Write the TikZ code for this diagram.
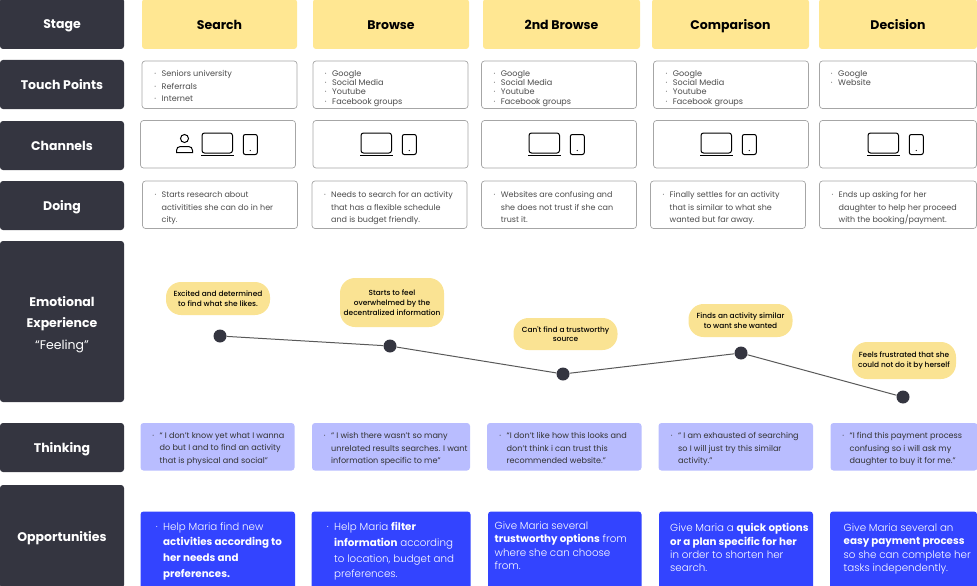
\documentclass[tikz,border=0pt]{standalone}
\usepackage{fontspec}
\setmainfont{Poppins}
\newfontfamily\bubblefont{Poppins Medium}
\newfontfamily\lightfont{Poppins Light}
\usetikzlibrary{positioning}

\definecolor{rowdark}{HTML}{343540}
\definecolor{stageyellow}{HTML}{FFE792}
\definecolor{bubbleyellow}{HTML}{FAE393}
\definecolor{thinklilac}{HTML}{B9BDFF}
\definecolor{oppblue}{HTML}{3344FF}

\newcommand{\bul}{\llap{\textperiodcentered\hspace{5.5pt}}}

\tikzset{
  cellbase/.style={anchor=north west,inner sep=0,outer sep=0,rounded corners=3pt},
  rowlabel/.style={cellbase,fill=rowdark,text=white,minimum width=124,align=center,
    text height=12,text depth=1.5,font=\fontsize{12.5}{21.5}\selectfont\bfseries},
  emolabel/.style={inner sep=0,text=white,align=center,
    font=\fontsize{12.5}{21.5}\selectfont\bfseries},
  stagecell/.style={cellbase,fill=stageyellow,minimum height=50,
    text height=12,text depth=1.5,font=\fontsize{12.5}{15}\selectfont\bfseries},
  linecell/.style={cellbase,draw=black!35,line width=.7pt,fill=white,minimum height=47.5},
  thinkcell/.style={cellbase,fill=thinklilac,minimum height=47.5},
  oppcell/.style={cellbase,fill=oppblue,minimum height=90},
  celltext/.style={anchor=north west,inner sep=0,align=left,text=black!70,
    font=\fontsize{8}{12.4}\selectfont},
  pointtext/.style={celltext,font=\fontsize{8.1}{9.4}\selectfont},
  thinktext/.style={celltext,text=black!80,font=\fontsize{8.1}{12.5}\selectfont},
  opptext/.style={anchor=north west,inner sep=0,align=left,text=white,
    font=\fontsize{10.3}{15.8}\lightfont},
  opptight/.style={opptext,font=\fontsize{10.3}{13.3}\lightfont},
  bubble/.style={fill=bubbleyellow,inner sep=0,align=center,rounded corners=15pt,
    minimum width=104,font=\fontsize{7.4}{9.7}\bubblefont},
  moodpoint/.style={circle,fill=rowdark,inner sep=0,minimum size=13},
  laptop/.pic={
    \draw[line width=1pt,rounded corners=2.5pt] (0,0) rectangle (30.5,20);
    \draw[line width=1.2pt] (-1,22.2) -- (31.5,22.2);
  },
  tablet/.pic={
    \draw[line width=1pt,rounded corners=2pt] (0,0) rectangle (14,20);
    \fill (7,16) circle (.6);
  },
}

\begin{document}
\begin{tikzpicture}[x=1pt,y=-1pt]
  \useasboundingbox (0,0) rectangle (977,586);

  % row labels
  \node[rowlabel,minimum height=51] (stage) at (0,-2) {Stage};
  \node[rowlabel,minimum height=49] (touch) at (0,60) {Touch Points};
  \node[rowlabel,minimum height=49] (chan) at (0,121) {Channels};
  \node[rowlabel,minimum height=49] (doing) at (0,181) {Doing};
  \node[cellbase,fill=rowdark,minimum width=124,minimum height=161] (emo) at (0,241) {};
  \node[emolabel] (emot) at (62,324.5) {Emotional\\Experience\\{\mdseries ``Feeling''}};
  \node[rowlabel,minimum height=49] (think) at (0,423) {Thinking};
  \node[rowlabel,minimum height=103] (opp) at (0,485) {Opportunities};

  % stages
  \node[stagecell,minimum width=155] (st1) at (142,-1) {Search};
  \node[stagecell,minimum width=156] (st2) at (313,-1) {Browse};
  \node[stagecell,minimum width=157] (st3) at (483,-1) {2nd Browse};
  \node[stagecell,minimum width=157] (st4) at (652,-1) {Comparison};
  \node[stagecell,minimum width=158] (st5) at (819,-1) {Decision};

  % touch points
  \node[linecell,minimum width=155] (tp1) at (142,61) {};
  \node[linecell,minimum width=155] (tp2) at (313,61) {};
  \node[linecell,minimum width=155] (tp3) at (481.5,61) {};
  \node[linecell,minimum width=155] (tp4) at (653.5,61) {};
  \node[linecell,minimum width=157] (tp5) at (819.5,61) {};
  \node[celltext,font=\fontsize{8.1}{12.4}\selectfont] (tp1t) at (161.5,70.3) {\bul Seniors university\\\bul Referrals\\\bul Internet};
  \node[pointtext] (tp2t) at (332,70) {\bul Google\\\bul Social Media\\\bul Youtube\\\bul Facebook groups};
  \node[pointtext] (tp3t) at (500.7,70) {\bul Google\\\bul Social Media\\\bul Youtube\\\bul Facebook groups};
  \node[pointtext] (tp4t) at (672.7,70) {\bul Google\\\bul Social Media\\\bul Youtube\\\bul Facebook groups};
  \node[pointtext] (tp5t) at (838,70) {\bul Google\\\bul Website};

  % channels
  \node[linecell,minimum width=155] (ch1) at (140.5,120.5) {};
  \node[linecell,minimum width=155] (ch2) at (313,120.5) {};
  \node[linecell,minimum width=155] (ch3) at (481.5,120.5) {};
  \node[linecell,minimum width=155] (ch4) at (653.5,120.5) {};
  \node[linecell,minimum width=157] (ch5) at (819.5,120.5) {};
  \foreach \lx in {202,361,529,701,868} {
    \pic at (\lx,133) {laptop};
    \pic at (\lx+41.3,134.5) {tablet};
  }
  \draw[line width=1pt] (184.5,138.5) circle (4);
  \draw[line width=1pt] (176.5,152.5) -- (176.5,150.5) .. controls (176.5,148) and (178,146.5) .. (180.5,146.5)
    -- (188.5,146.5) .. controls (191,146.5) and (192.5,148) .. (192.5,150.5) -- (192.5,152.5) -- cycle;

  % doing
  \node[linecell,minimum width=155] (do1) at (142.5,181) {};
  \node[linecell,minimum width=155] (do2) at (312,181) {};
  \node[linecell,minimum width=155] (do3) at (481.5,181) {};
  \node[linecell,minimum width=155] (do4) at (650.5,181) {};
  \node[linecell,minimum width=157] (do5) at (819.5,181) {};
  \node[celltext] (do1t) at (161.5,191.5) {\bul Starts research about\\activitities she can do in her\\city.};
  \node[celltext] (do2t) at (331,191.5) {\bul Needs to search for an activity\\that has a flexible schedule\\and is budget friendly.};
  \node[celltext] (do3t) at (500.7,191.5) {\bul Websites are confusing and\\she does not trust if she can\\trust it.};
  \node[celltext] (do4t) at (669.5,191.5) {\bul Finally settles for an activity\\that is similar to what she\\wanted but far away.};
  \node[celltext] (do5t) at (838.5,191.5) {\bul Ends up asking for her\\daughter to help her proceed\\with the booking/payment.};

  % feeling curve
  \node[moodpoint] (m1) at (220,336) {};
  \node[moodpoint] (m2) at (390,346) {};
  \node[moodpoint] (m3) at (563,374) {};
  \node[moodpoint] (m4) at (741,353) {};
  \node[moodpoint] (m5) at (903,397) {};
  \draw[line width=1pt,black!65] (m1) -- (m2) -- (m3) -- (m4) -- (m5);
  \node[bubble,minimum height=33] (b1) at (218,298.5) {Excited and determined\\to find what she likes.};
  \node[bubble,minimum height=49] (b2) at (392,302.5) {Starts to feel\\overwhelmed by the\\decentralized information};
  \node[bubble,minimum height=32] (b3) at (565.5,334) {Can't find a trustworthy\\source};
  \node[bubble,minimum height=33] (b4) at (740.5,320.5) {Finds an activity similar\\to want she wanted};
  \node[bubble,minimum height=37] (b5) at (904,360.5) {Feels frustrated that she\\could not do it by herself};

  % thinking
  \node[thinkcell,minimum width=154] (th1) at (140.5,423) {};
  \node[thinkcell,minimum width=158] (th2) at (312,423) {};
  \node[thinkcell,minimum width=154.5] (th3) at (487,423) {};
  \node[thinkcell,minimum width=154.5] (th4) at (658.5,423) {};
  \node[thinkcell,minimum width=147] (th5) at (830.5,423) {};
  \node[thinktext] (th1t) at (159.5,432.2) {\bul `` I don't know yet what I wanna\\do but I and to find an activity\\that is physical and social''};
  \node[thinktext] (th2t) at (331,432.2) {\bul `` I wish there wasn't so many\\unrelated results searches. I want\\information specific to me''};
  \node[thinktext] (th3t) at (506.5,432.2) {\bul ``I don't like how this looks and\\don't think i can trust this\\recommended website.''};
  \node[thinktext] (th4t) at (678,432.2) {\bul `` I am exhausted of searching\\so I will just try this similar\\activity.''};
  \node[thinktext] (th5t) at (849.5,432.2) {\bul ``I find this payment process\\confusing so i will ask my\\daughter to buy it for me.''};

  % opportunities
  \node[oppcell,minimum width=154.5] (op1) at (140.5,511.5) {};
  \node[oppcell,minimum width=159] (op2) at (311.5,511.5) {};
  \node[oppcell,minimum width=153.5] (op3) at (488,511.5) {};
  \node[oppcell,minimum width=154] (op4) at (659,511.5) {};
  \node[oppcell,minimum width=147] (op5) at (830,511.5) {};
  \node[opptext] (op1t) at (163,522) {\bul Help Maria find new\\{\rmfamily\bfseries activities according to}\\{\rmfamily\bfseries her needs and}\\{\rmfamily\bfseries preferences.}};
  \node[opptext] (op2t) at (334,522) {\bul Help Maria {\rmfamily\bfseries filter}\\{\rmfamily\bfseries information} according\\to location, budget and\\preferences.};
  \node[opptight] (op3t) at (494.5,521.5) {Give Maria several\\{\rmfamily\bfseries trustworthy options} from\\where she can choose\\from.};
  \node[opptight] (op4t) at (670,523.5) {Give Maria a {\rmfamily\bfseries quick options}\\{\rmfamily\bfseries or a plan specific for her}\\in order to shorten her\\search.};
  \node[opptight] (op5t) at (843.5,523.5) {Give Maria several an\\{\rmfamily\bfseries easy payment process}\\so she can complete her\\tasks independently.};
\end{tikzpicture}
\end{document}
